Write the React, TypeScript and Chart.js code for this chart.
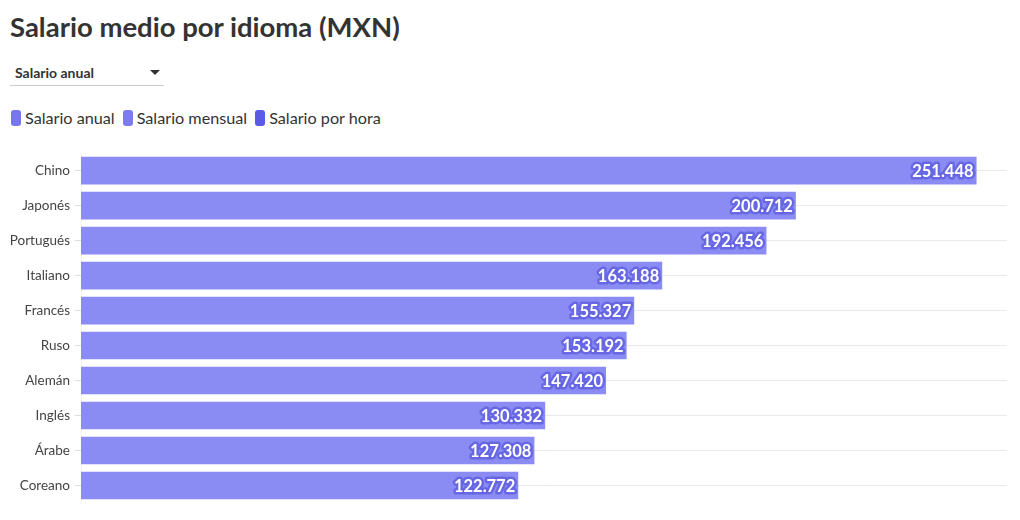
import React, { useEffect, useRef } from "react";
import { Chart, registerables } from "chart.js";

Chart.register(...registerables);

const titleText = "Salario medio por idioma (MXN)";
const dropdownLabel = "Salario anual";
const categories = ["Chino", "Japonés", "Portugués", "Italiano", "Francés", "Ruso", "Alemán", "Inglés", "Árabe", "Coreano"];
const salarioAnual = [251448, 200712, 192456, 163188, 155327, 153192, 147420, 130332, 127308, 122772];
const legendLabels = ["Salario anual", "Salario mensual", "Salario por hora"];
const legendColors = ["#7676ee", "#7c7cf0", "#5a5ae6"];
const xMax = 260000;

const FONT = "Lato, 'Noto Sans', sans-serif";

function formatNum(v: number): string {
  return String(v).replace(/\B(?=(\d{3})+(?!\d))/g, ".");
}

const valueLabelPlugin = {
  id: "valueLabels",
  afterDatasetsDraw(chart: any) {
    const ctx = chart.ctx;
    const meta = chart.getDatasetMeta(0);
    const data = chart.data.datasets[0].data as number[];
    ctx.save();
    ctx.font = `bold 16.5px ${FONT}`;
    ctx.textAlign = "right";
    ctx.textBaseline = "middle";
    ctx.lineJoin = "round";
    meta.data.forEach((bar: any, i: number) => {
      const txt = formatNum(data[i]);
      const x = bar.x - 3;
      const y = bar.y + 1;
      ctx.lineWidth = 5;
      ctx.strokeStyle = "rgba(98,98,226,0.85)";
      ctx.strokeText(txt, x, y);
      ctx.fillStyle = "#ffffff";
      ctx.fillText(txt, x, y);
    });
    ctx.restore();
  },
};

export default function App() {
  const canvasRef = useRef<HTMLCanvasElement | null>(null);

  useEffect(() => {
    if (!canvasRef.current) return;
    const chart = new Chart(canvasRef.current, {
      type: "bar",
      data: {
        labels: categories,
        datasets: [
          {
            label: legendLabels[0],
            data: salarioAnual,
            backgroundColor: "#8b8bf4",
            borderWidth: 0,
            barPercentage: 0.79,
            categoryPercentage: 1,
          },
        ],
      },
      options: {
        indexAxis: "y",
        animation: false,
        responsive: true,
        maintainAspectRatio: false,
        layout: { padding: { top: 7, bottom: 17, left: 0, right: 13 } },
        plugins: {
          legend: { display: false },
          title: { display: false },
          tooltip: { enabled: false },
        },
        scales: {
          x: {
            display: false,
            min: 0,
            max: xMax,
          },
          y: {
            afterFit(scale: any) {
              scale.width = 81;
            },
            border: { display: true, color: "#f2f2f2" },
            grid: {
              offset: false,
              color: "#e9e9e9",
              tickColor: "#dddddd",
              tickLength: 6,
              lineWidth: 1,
            },
            ticks: {
              color: "#444444",
              padding: 5,
              font: { family: FONT, size: 13.5 },
            },
          },
        },
      },
      plugins: [valueLabelPlugin],
    } as any);
    return () => chart.destroy();
  }, []);

  return (
    <div style={{ position: "absolute", left: 0, top: 0, width: 1020, height: 520, background: "#fff", fontFamily: FONT, color: "#333" }}>
      <div style={{ position: "absolute", left: 10, top: 10, fontSize: 27.5, fontWeight: 700, color: "#333333", lineHeight: "34px", whiteSpace: "nowrap" }}>
        {titleText}
      </div>
      <div style={{ position: "absolute", left: 10, top: 62, width: 154, height: 23, borderBottom: "1px solid #cccccc" }}>
        <span style={{ position: "absolute", left: 5, top: 2, fontSize: 14, fontWeight: 700, color: "#333", lineHeight: "18px" }}>{dropdownLabel}</span>
        <span style={{ position: "absolute", left: 140, top: 8, width: 0, height: 0, borderLeft: "5px solid transparent", borderRight: "5px solid transparent", borderTop: "5px solid #333" }} />
      </div>
      <div style={{ position: "absolute", left: 11, top: 108, display: "flex", alignItems: "center", whiteSpace: "nowrap" }}>
        {legendLabels.map((l, i) => (
          <div key={l} style={{ display: "flex", alignItems: "center", marginRight: 8 }}>
            <span style={{ display: "inline-block", width: 10, height: 16, borderRadius: 3, background: legendColors[i], marginRight: 4 }} />
            <span style={{ fontSize: 16.2, color: "#333", lineHeight: "20px" }}>{l}</span>
          </div>
        ))}
      </div>
      <div style={{ position: "absolute", left: 0, top: 140, width: 1020, height: 380 }}>
        <canvas ref={canvasRef} />
      </div>
    </div>
  );
}
